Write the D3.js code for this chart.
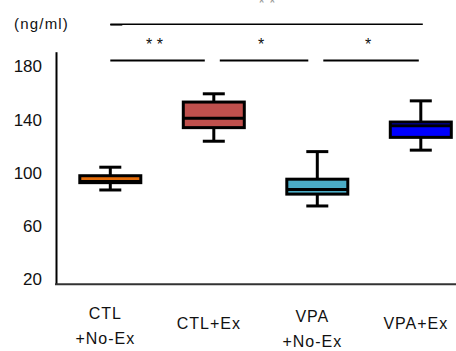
<!DOCTYPE html>
<html>
<head>
<meta charset="utf-8">
<script src="https://cdn.jsdelivr.net/npm/d3@7"></script>
<style>
  body { margin: 0; background: #fff; }
  svg { display: block; font-family: Arial, "Liberation Sans", sans-serif; }
</style>
</head>
<body>
<div id="chart"></div>
<script>
// groups and box values (ng/ml)
const groups = ['CTL+No-Ex', 'CTL+Ex', 'VPA+No-Ex', 'VPA+Ex'];
const groupLabels = [['CTL', '+No-Ex'], ['CTL+Ex'], ['VPA', '+No-Ex'], ['VPA+Ex']];
const whiskerLow = [87.2, 123.8, 75.2, 117.1];
const q1 = [92.7, 134.0, 84.1, 126.7];
const median = [93.6, 141.1, 87.5, 135.5];
const q3 = [97.9, 153.2, 95.3, 138.2];
const whiskerHigh = [104.3, 159.4, 116.0, 154.1];
const boxColors = ['#E46C0A', '#C0504D', '#4BACC6', '#0000FF'];
const yTicks = [20, 60, 100, 140, 180];

// significance bars: [from group, to group, label]
const sigPairs = [
  ['CTL+No-Ex', 'CTL+Ex', '* *'],
  ['CTL+Ex', 'VPA+No-Ex', '*'],
  ['VPA+No-Ex', 'VPA+Ex', '*'],
];

const width = 456, height = 351;
const axisX = 56;

const svg = d3.select('#chart').append('svg')
  .attr('width', width)
  .attr('height', height);

const x = d3.scalePoint().domain(groups).range([110.3, 420.8]);
const y = d3.scaleLinear().domain([16.4, 191]).range([284.3, 51.7]);

// y axis
const yAxis = d3.axisLeft(y).tickValues(yTicks).tickSizeInner(0).tickSizeOuter(0).tickPadding(14);
const gy = svg.append('g')
  .attr('transform', `translate(${axisX},0)`)
  .call(yAxis);
gy.select('.domain').attr('stroke', '#000').attr('stroke-width', 2);
gy.selectAll('.tick text')
  .attr('font-size', 17)
  .attr('fill', '#111')
  .attr('font-family', 'Arial, "Liberation Sans", sans-serif');

// bottom axis line
svg.append('line')
  .attr('x1', axisX - 1).attr('x2', width)
  .attr('y1', y(16.4)).attr('y2', y(16.4))
  .attr('stroke', '#333')
  .attr('stroke-width', 2);

// unit label
svg.append('text')
  .attr('x', 14).attr('y', 29)
  .attr('font-size', 15)
  .attr('letter-spacing', 1.2)
  .attr('fill', '#111')
  .text('(ng/ml)');

// x labels
groups.forEach((g, i) => {
  const lines = groupLabels[i];
  const t = svg.append('text')
    .attr('text-anchor', 'middle')
    .attr('font-size', 16)
    .attr('letter-spacing', 1)
    .attr('fill', '#111');
  const y0 = lines.length === 1 ? 329 : (i === 0 ? 319 : 322);
  lines.forEach((s, j) => {
    t.append('tspan')
      .attr('x', x(g) - 5)
      .attr('y', y0 + j * 25)
      .text(s);
  });
});

// boxes
const boxW = 61, capW = 22;
const boxes = svg.selectAll('.box')
  .data(groups)
  .enter()
  .append('g')
  .attr('class', 'box');

boxes.append('line')
  .attr('x1', d => x(d)).attr('x2', d => x(d))
  .attr('y1', (d, i) => y(whiskerHigh[i]))
  .attr('y2', (d, i) => y(whiskerLow[i]))
  .attr('stroke', '#000').attr('stroke-width', 3);

boxes.append('line')
  .attr('x1', d => x(d) - capW / 2).attr('x2', d => x(d) + capW / 2)
  .attr('y1', (d, i) => y(whiskerHigh[i])).attr('y2', (d, i) => y(whiskerHigh[i]))
  .attr('stroke', '#000').attr('stroke-width', 3);

boxes.append('line')
  .attr('x1', d => x(d) - capW / 2).attr('x2', d => x(d) + capW / 2)
  .attr('y1', (d, i) => y(whiskerLow[i])).attr('y2', (d, i) => y(whiskerLow[i]))
  .attr('stroke', '#000').attr('stroke-width', 3);

boxes.append('rect')
  .attr('x', d => x(d) - boxW / 2)
  .attr('y', (d, i) => y(q3[i]))
  .attr('width', boxW)
  .attr('height', (d, i) => y(q1[i]) - y(q3[i]))
  .attr('fill', (d, i) => boxColors[i])
  .attr('stroke', '#000')
  .attr('stroke-width', 3);

boxes.append('line')
  .attr('x1', d => x(d) - boxW / 2).attr('x2', d => x(d) + boxW / 2)
  .attr('y1', (d, i) => y(median[i])).attr('y2', (d, i) => y(median[i]))
  .attr('stroke', '#000').attr('stroke-width', 3);

// significance bars
const sigY = 60.5;
sigPairs.forEach(([a, b, label], i) => {
  const x1 = i === 0 ? x(a) : x(a) + 6;
  const x2 = i === 2 ? x(b) - 2 : x(b) - 9;
  svg.append('line')
    .attr('x1', x1).attr('x2', x2)
    .attr('y1', sigY).attr('y2', sigY)
    .attr('stroke', '#000').attr('stroke-width', i === 0 ? 2 : 1.8);
  svg.append('text')
    .attr('x', (x1 + x2) / 2 - 3)
    .attr('y', 50)
    .attr('text-anchor', 'middle')
    .attr('font-size', 16)
    .attr('fill', '#111')
    .text(label);
});

// overall bar
svg.append('line')
  .attr('x1', x(groups[0])).attr('x2', x(groups[3]) + 2)
  .attr('y1', 24.3).attr('y2', 24.3)
  .attr('stroke', '#000').attr('stroke-width', 1.6);
svg.append('line')
  .attr('x1', x(groups[0])).attr('x2', x(groups[0]) + 12)
  .attr('y1', 24.8).attr('y2', 24.8)
  .attr('stroke', '#000').attr('stroke-width', 1.6);
svg.append('text')
  .attr('x', 267).attr('y', 9)
  .attr('text-anchor', 'middle')
  .attr('font-size', 16)
  .attr('fill', '#999')
  .text('* *');
</script>
</body>
</html>
